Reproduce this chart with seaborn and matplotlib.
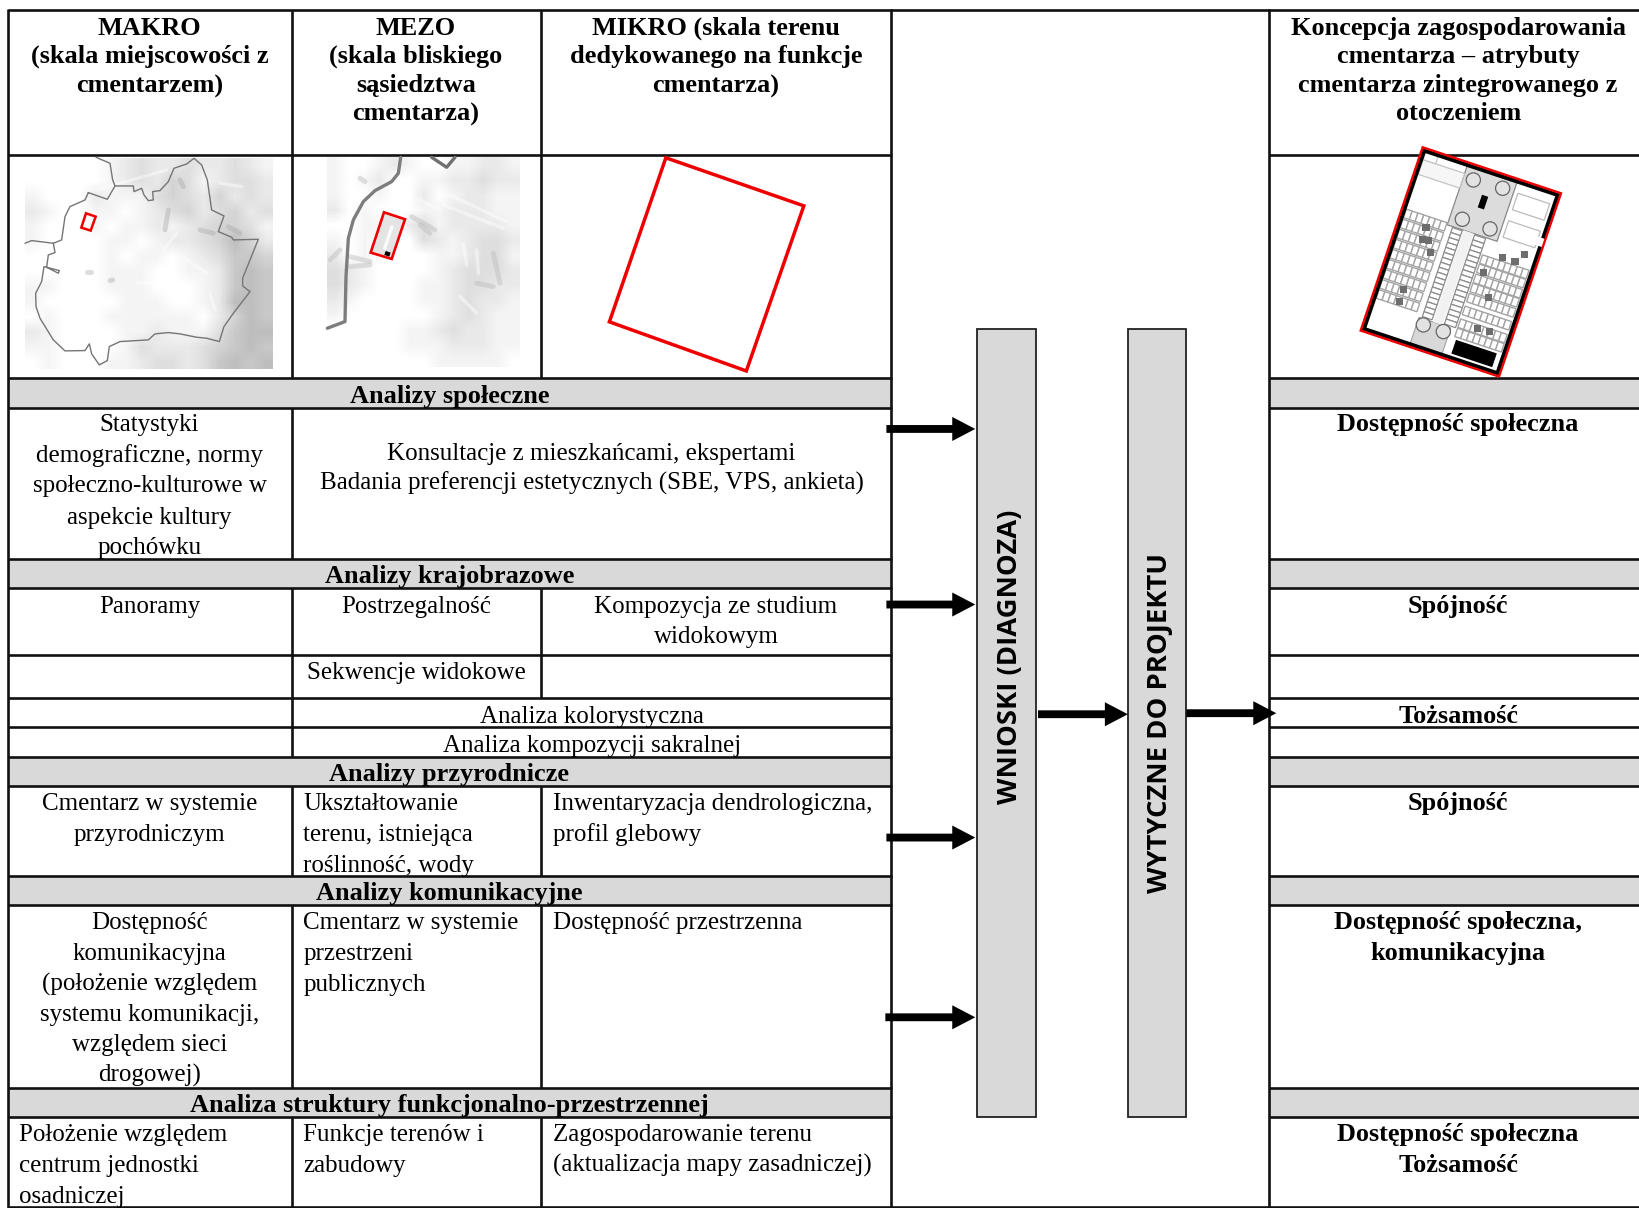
import numpy as np
import matplotlib
matplotlib.use("Agg")
import matplotlib.pyplot as plt
from matplotlib.patches import Polygon, Rectangle, Circle
import seaborn as sns

sns.set_theme(style="white")
SERIF = "Liberation Serif"
SANS = "Open Sans"
FS = 18.0
FS_BOLD = 18.9

W, H = 1568, 1156
SC = 1639 / 1568

# table geometry, in the coordinates of the 1568 wide view
col_x = [8, 279, 518, 853, 1214]
row_y = [10, 148, 362, 390, 535, 563, 627, 668, 696, 724, 752, 838, 866, 1041, 1069, 1155]
gray_rows = [(362, 390), (535, 563), (724, 752), (838, 866), (1041, 1069)]
mid_col_spans = [(10, 362), (563, 668), (752, 838), (866, 1041), (1069, 1155)]
left_col_spans = [(10, 362), (390, 535), (563, 724), (752, 838), (866, 1041), (1069, 1155)]

header_bold = [
    (143, [25, 52, 80], ["MAKRO", "(skala miejscowości z", "cmentarzem)"]),
    (398, [25, 52, 80, 107], ["MEZO", "(skala bliskiego", "sąsiedztwa", "cmentarza)"]),
    (685, [25, 52, 80], ["MIKRO (skala terenu", "dedykowanego na funkcje", "cmentarza)"]),
    (1395, [25, 52, 80, 107], ["Koncepcja zagospodarowania", "cmentarza – atrybuty",
                               "cmentarza zintegrowanego z", "otoczeniem"]),
]
section_titles = [
    (377, "Analizy społeczne"),
    (550, "Analizy krajobrazowe"),
    (739, "Analizy przyrodnicze"),
    (853, "Analizy komunikacyjne"),
    (1056, "Analiza struktury funkcjonalno-przestrzennej"),
]
center_cells = [
    (143, [404, 434, 463, 493, 522], ["Statystyki", "demograficzne, normy", "społeczno-kulturowe w",
                                      "aspekcie kultury", "pochówku"]),
    (566, [432, 460], ["Konsultacje z mieszkańcami, ekspertami",
                       "Badania preferencji estetycznych (SBE, VPS, ankieta)"]),
    (143, [578], ["Panoramy"]),
    (398, [578], ["Postrzegalność"]),
    (685, [578, 607], ["Kompozycja ze studium", "widokowym"]),
    (398, [642], ["Sekwencje widokowe"]),
    (566, [684], ["Analiza kolorystyczna"]),
    (566, [711], ["Analiza kompozycji sakralnej"]),
    (143, [767, 797], ["Cmentarz w systemie", "przyrodniczym"]),
    (143, [881, 910, 940, 969, 998, 1027], ["Dostępność", "komunikacyjna", "(położenie względem",
                                            "systemu komunikacji,", "względem sieci", "drogowej)"]),
]
left_cells = [
    (290, [767, 797, 826], ["Ukształtowanie", "terenu, istniejąca", "roślinność, wody"]),
    (529, [767, 797], ["Inwentaryzacja dendrologiczna,", "profil glebowy"]),
    (290, [881, 910, 940], ["Cmentarz w systemie", "przestrzeni", "publicznych"]),
    (529, [881], ["Dostępność przestrzenna"]),
    (18, [1084, 1113, 1143], ["Położenie względem", "centrum jednostki", "osadniczej"]),
    (290, [1084, 1113], ["Funkcje terenów i", "zabudowy"]),
    (529, [1084, 1113], ["Zagospodarowanie terenu", "(aktualizacja mapy zasadniczej)"]),
]
attributes = [
    ([404], ["Dostępność społeczna"]),
    ([578], ["Spójność"]),
    ([684], ["Tożsamość"]),
    ([767], ["Spójność"]),
    ([881, 910], ["Dostępność społeczna,", "komunikacyjna"]),
    ([1084, 1113], ["Dostępność społeczna", "Tożsamość"]),
]

# gray levels of the two map thumbnails, one hex digit per cell
map1_rows = [
    "fffffedcddcddcde", "fffffedcdbcedccd", "efffdeeecbcdbdcd", "deffeefedcbdcbdc",
    "efffefeededcbbce", "effffeefeddcb9bd", "fffffefeefedcaab", "fffffeeeffeeda9a",
    "eefffeeefffeda9a", "efffffeeeffed99a", "fefffeeeeeefdb9a", "deffffeedeeeca99",
    "eeffffecdddcba9a", "fefffeedccdca9a9",
]
map2_rows = [
    "effedeffeedde", "efedffeeddcdd", "effeffdfeddee", "dfefffeedddee", "ffeefdcedddde",
    "efefffcdedccd", "dfeffffeedcce", "cdeffffedcccd", "cdefffeedccdd", "deffffeedcdde",
    "effffffedcdee", "fffffeedcddee", "fffffeeedddee", "fffffffeeeeef",
]

map1_border = [(205, 128), (262, 148), (285, 108), (340, 108), (342, 125), (365, 115), (372, 135), (385, 152),
               (400, 150), (398, 125), (420, 122), (445, 95), (462, 55), (500, 42), (522, 25), (545, 45),
               (562, 90), (575, 180), (612, 198), (595, 245), (635, 262), (640, 270), (715, 268), (668, 385),
               (668, 408), (690, 425), (640, 490), (612, 530), (598, 575), (560, 565), (530, 562), (480, 552),
               (445, 548), (405, 552), (385, 570), (300, 575), (268, 590), (262, 632), (238, 645), (215, 612),
               (208, 582), (195, 602), (135, 603), (100, 570), (60, 505), (48, 470), (47, 430), (65, 395),
               (72, 350), (118, 362), (115, 370), (80, 352), (85, 315), (105, 308), (100, 280), (125, 270),
               (135, 200), (150, 170), (195, 150), (205, 128)]
map1_branch_a = [(15, 280), (35, 272), (100, 280)]
map1_branch_b = [(228, 22), (270, 40), (278, 90), (285, 108)]
map1_red = [(198, 190), (227, 200), (212, 242), (184, 233)]
map1_light = [[(430, 300), (470, 250)], [(600, 100), (665, 110)], [(570, 430), (585, 480)], [(230, 120), (440, 60)],
              [(350, 400), (480, 390)], [(500, 330), (560, 370)]]
map1_dark = [[(445, 180), (435, 240)], [(480, 90), (490, 110)], [(200, 367), (212, 367)], [(625, 230), (660, 250)],
             [(540, 240), (580, 250)], [(270, 392), (278, 390)]]
map2_road_a = [(242, 22), (235, 70), (215, 95), (165, 122), (130, 155), (100, 210), (85, 265), (78, 380),
               (75, 515), (22, 535)]
map2_road_b = [(335, 22), (380, 52), (405, 22)]
map2_red = [(192, 187), (255, 208), (215, 327), (152, 308)]
map2_light = [[(370, 165), (550, 235)], [(400, 140), (560, 215)], [(430, 280), (440, 345)], [(470, 300), (475, 370)],
              [(420, 440), (470, 490)], [(300, 150), (360, 180)]]
map2_dark = [[(275, 200), (345, 240)], [(300, 225), (330, 250)], [(470, 400), (520, 410)], [(90, 320), (150, 335)],
             [(90, 350), (150, 345)], [(520, 310), (540, 400)], [(120, 85), (135, 95)], [(30, 330), (60, 300)]]
site_outline = [(637, 151), (769, 197), (714, 355), (583, 308)]

# concept plan, corners of the rotated sheet in a 3x crop
plan_a, plan_b, plan_d = np.array([488, 52.]), np.array([903, 190.]), np.array([302, 602.])
plan_trees = [(640, 150), (728, 175), (607, 268), (690, 297), (490, 585), (550, 605)]
plan_dark = [(498, 292), (488, 328), (505, 333), (512, 368), (430, 478), (418, 514), (728, 382), (765, 395),
             (793, 373), (670, 428), (685, 503), (652, 595), (688, 606)]
left_plot_rows = [.33, .385, .44, .495, .55, .605, .66, .715, .77]
right_plot_rows = [.43, .48, .535, .585, .64, .71, .78, .83]


def grid_from(rows, factor=10):
    g = np.array([[255 - (15 - int(c, 16)) * 11 for c in r] for r in rows], dtype=float)
    g = np.repeat(np.repeat(g, factor, axis=0), factor, axis=1)
    kernel = np.ones(factor) / factor
    g = np.apply_along_axis(lambda v: np.convolve(np.pad(v, factor, mode="edge"), kernel, mode="same")[factor:-factor], 0, g)
    g = np.apply_along_axis(lambda v: np.convolve(np.pad(v, factor, mode="edge"), kernel, mode="same")[factor:-factor], 1, g)
    return g


def tile(rows, x0, x1, y0, y1):
    a = fig.add_axes([x0 / W, 1 - y1 / H, (x1 - x0) / W, (y1 - y0) / H], zorder=1)
    sns.heatmap(grid_from(rows), ax=a, cbar=False, cmap="gray", vmin=0, vmax=255,
                xticklabels=False, yticklabels=False)
    a.set_axis_off()


def crop(pts, ox, oy):
    # 3x crop pixels -> view coordinates
    return [((ox + x / 3) / SC, (oy + y / 3) / SC) for x, y in pts]


def plan_pt(u, v):
    p = plan_a + u * (plan_b - plan_a) + v * (plan_d - plan_a)
    return ((1260 + p[0] / 3) / SC, (130 + p[1] / 3) / SC)


def plan_rect(u0, u1, v0, v1, **kw):
    top.add_patch(Polygon([plan_pt(u0, v0), plan_pt(u1, v0), plan_pt(u1, v1), plan_pt(u0, v1)], closed=True, **kw))


def put(x, ys, lines, ha="center", bold=False):
    for y, s in zip(ys, lines):
        top.text(x, y + 8.2, s, ha=ha, va="baseline", family=SERIF, fontsize=FS_BOLD if bold else FS,
                 fontweight="bold" if bold else "normal", color="black")


fig = plt.figure(figsize=(16.39, 12.08), dpi=100, facecolor="white")
ax = fig.add_axes([0, 0, 1, 1], zorder=0)
top = fig.add_axes([0, 0, 1, 1], zorder=2)
top.patch.set_alpha(0)
for a in (ax, top):
    a.set_xlim(0, W)
    a.set_ylim(H, 0)
    a.set_axis_off()

LW = 1.9
for y0, y1 in gray_rows:
    ax.add_patch(Rectangle((col_x[0], y0), col_x[3] - col_x[0], y1 - y0, fc="#d9d9d9", ec="none"))
    ax.add_patch(Rectangle((col_x[4], y0), W - col_x[4], y1 - y0, fc="#d9d9d9", ec="none"))
for y in row_y:
    ax.plot([col_x[0], col_x[3]], [y, y], color="#111111", lw=LW, solid_capstyle="butt")
    ax.plot([col_x[4], W], [y, y], color="#111111", lw=LW, solid_capstyle="butt")
ax.plot([col_x[3], col_x[4]], [10, 10], color="#111111", lw=LW)
ax.plot([col_x[3], col_x[4]], [1155, 1155], color="#111111", lw=LW)
for x in (col_x[0], col_x[3] - .5, col_x[4]):
    ax.plot([x, x], [9, 1156], color="#111111", lw=LW, solid_capstyle="butt")
for y0, y1 in left_col_spans:
    ax.plot([col_x[1], col_x[1]], [y0, y1], color="#111111", lw=LW, solid_capstyle="butt")
for y0, y1 in mid_col_spans:
    ax.plot([col_x[2], col_x[2]], [y0, y1], color="#111111", lw=LW, solid_capstyle="butt")

# map thumbnails
tile(map1_rows, 24, 261, 151, 353)
tile(map2_rows, 313, 497, 150, 351)

for seg in map1_light:
    top.plot(*zip(*crop(seg, 20, 150)), color="white", lw=2.2, alpha=.45)
for seg in map1_dark:
    top.plot(*zip(*crop(seg, 20, 150)), color="#a8a8a8", lw=3.5, alpha=.4)
for seg in map2_light:
    top.plot(*zip(*crop(seg, 320, 150)), color="white", lw=2.5, alpha=.45)
for seg in map2_dark:
    top.plot(*zip(*crop(seg, 320, 150)), color="#bdbdbd", lw=3.5, alpha=.45)

top.plot(*zip(*crop(map1_border, 20, 150)), color="#757575", lw=1.0)
top.plot(*zip(*crop(map1_branch_a, 20, 150)), color="#757575", lw=1.0)
top.plot(*zip(*crop(map1_branch_b, 20, 150)), color="#757575", lw=1.0)
top.add_patch(Polygon(crop(map1_red, 20, 150), closed=True, fc="white", ec="#ee0000", lw=1.8))
top.plot(*zip(*crop(map2_road_a, 320, 150)), color="#7d7d7d", lw=2.4)
top.plot(*zip(*crop(map2_road_b, 320, 150)), color="#707070", lw=2.4)
top.add_patch(Polygon(crop(map2_red, 320, 150), closed=True, fc="#e4e4e4", ec="#ee0000", lw=1.9))
top.add_patch(Polygon(crop([(212, 225), (222, 228), (198, 300), (188, 297)], 320, 150), closed=True, fc="#fafafa", ec="none"))
top.add_patch(Polygon(crop([(197, 303), (212, 308), (208, 320), (193, 315)], 320, 150), closed=True, fc="black", ec="none"))

top.add_patch(Polygon(site_outline, closed=True, fc="none", ec="#ee0000", lw=2.5))

# concept plan
plan_rect(0, 1, 0, 1, fc="white", ec="none", zorder=2)
plan_rect(.33, .69, .02, .34, fc="#dcdcdc", ec="#888888", lw=.9, zorder=3)
plan_rect(.35, .58, .84, .985, fc="#d8d8d8", ec="#999999", lw=.7, zorder=3)
plan_rect(.45, .52, .34, .84, fc="#f2f2f2", ec="none", zorder=3)
for u0, u1 in [(.37, .44), (.53, .61)]:
    for v in np.arange(.345, .83, .027):
        plan_rect(u0, u1, v, v + .027, fc="white", ec="#8c8c8c", lw=.9, zorder=3)
for v in left_plot_rows:
    for u in np.arange(.03, .32, .042):
        plan_rect(u, u + .042, v, v + .046, fc="white", ec="#a4a4a4", lw=1.0, zorder=3)
for v in right_plot_rows:
    for u in np.arange(.625, .95, .042):
        plan_rect(u, u + .042, v, v + .046, fc="white", ec="#a4a4a4", lw=1.0, zorder=3)
plan_rect(.03, .33, .06, .14, fc="#f6f6f6", ec="#c4c4c4", lw=.9, zorder=3)
plan_rect(.03, .12, .02, .06, fc="white", ec="#c4c4c4", lw=.9, zorder=3)
plan_rect(.72, .95, .07, .16, fc="white", ec="#bbbbbb", lw=.9, zorder=3)
plan_rect(.72, .95, .22, .31, fc="white", ec="#bbbbbb", lw=.9, zorder=3)
plan_rect(.64, .935, .89, .965, fc="black", ec="none", zorder=4)
plan_rect(.49, .535, .136, .205, fc="black", ec="none", zorder=4)
for p in crop(plan_dark, 1260, 130):
    top.add_patch(Rectangle((p[0] - 3.4, p[1] - 3.4), 6.8, 6.8, fc="#6e6e6e", ec="none", zorder=4))
for p in crop(plan_trees, 1260, 130):
    top.add_patch(Circle(p, 6.8, fc="#e2e2e2", ec="#666666", lw=.9, zorder=4))
plan_rect(.018, .982, .014, .986, fc="none", ec="black", lw=2.8, zorder=5)
plan_rect(.94, 1.0, .25, .295, fc="white", ec="none", zorder=6)
plan_rect(0, 1, 0, 1, fc="none", ec="#ee0000", lw=1.7, zorder=7)

# boxes and arrows
top.add_patch(Rectangle((935, 315), 56, 754, fc="#d9d9d9", ec="#222222", lw=1.3))
top.add_patch(Rectangle((1079, 315), 56, 754, fc="#d9d9d9", ec="#222222", lw=1.3))
top.text(966, 629, "WNIOSKI (DIAGNOZA)", rotation=90, ha="center", va="center", family=SANS,
         fontsize=19.7, fontweight="bold", color="black")
top.text(1110, 692, "WYTYCZNE DO PROJEKTU", rotation=90, ha="center", va="center", family=SANS,
         fontsize=19.7, fontweight="bold", color="black")
for x0, x1, y in [(848, 933, 410.5), (848, 933, 578.5), (848, 933, 801.5), (847, 933, 973.5),
                  (993, 1079, 683.5), (1135, 1221, 682.5)]:
    top.arrow(x0, y, x1 - x0, 0, width=7.5, head_width=23, head_length=22,
              length_includes_head=True, fc="black", ec="none", zorder=8)

# texts
for x, ys, lines in header_bold:
    put(x, ys, lines, bold=True)
for y, s in section_titles:
    put(430, [y], [s], bold=True)
for x, ys, lines in center_cells:
    put(x, ys, lines)
for x, ys, lines in left_cells:
    put(x, ys, lines, ha="left")
for ys, lines in attributes:
    put(1395, ys, lines, bold=True)

fig.savefig("out.png", dpi=100, facecolor="white")
